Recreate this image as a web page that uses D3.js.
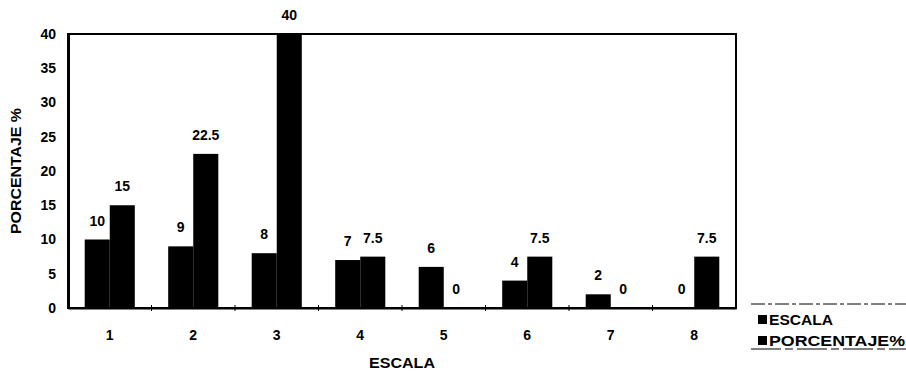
<!DOCTYPE html>
<html>
<head>
<meta charset="utf-8">
<script src="https://cdn.jsdelivr.net/npm/d3@7"></script>
<style>
  body { margin: 0; background: #fff; }
  svg text { font-family: "Liberation Sans", Arial, sans-serif; font-weight: bold; fill: #000; }
</style>
</head>
<body>
<div id="chart"></div>
<script>
// data
const categories = ["1", "2", "3", "4", "5", "6", "7", "8"];
const escala = [10, 9, 8, 7, 6, 4, 2, 0];
const porcentaje = [15, 22.5, 40, 7.5, 0, 7.5, 0, 7.5];
const seriesNames = ["ESCALA", "PORCENTAJE%"];
const yTicks = [0, 5, 10, 15, 20, 25, 30, 35, 40];

const width = 906, height = 376;
const margin = { top: 34, right: 170, bottom: 68, left: 68 };

const svg = d3.select("#chart")
  .append("svg")
  .attr("width", width)
  .attr("height", height);

// scales
let xScale = d3.scaleBand()
  .domain(categories)
  .range([margin.left, width - margin.right])
  .paddingInner(0.4)
  .paddingOuter(0.2);

let xSub = d3.scaleBand()
  .domain(seriesNames)
  .range([0, xScale.bandwidth()]);

let yScale = d3.scaleLinear()
  .domain([0, 40])
  .range([height - margin.bottom, margin.top]);

// build rows for the grouped bars
const rows = categories.map((c, i) => ({ cat: c, values: [
  { key: seriesNames[0], v: escala[i] },
  { key: seriesNames[1], v: porcentaje[i] }
]}));

// plot frame
svg.append("rect")
  .attr("x", margin.left)
  .attr("y", margin.top)
  .attr("width", width - margin.right - margin.left)
  .attr("height", height - margin.bottom - margin.top)
  .attr("fill", "none")
  .attr("stroke", "#000")
  .attr("stroke-width", 2);

// y axis
svg.append("g")
  .attr("transform", `translate(${margin.left},0)`)
  .call(d3.axisLeft(yScale).tickValues(yTicks).tickSize(0).tickPadding(12))
  .call(g => g.select(".domain").attr("stroke-width", 3))
  .attr("font-size", "14px")
  .attr("font-family", null);

// x axis (ticks between categories)
svg.append("g")
  .attr("transform", `translate(0,${height - margin.bottom})`)
  .call(d3.axisBottom(xScale).tickSize(0).tickPadding(22))
  .call(g => g.select(".domain").attr("stroke-width", 2))
  .attr("font-size", "14px")
  .attr("font-family", null);

const step = xScale.step();
svg.append("g")
  .selectAll("line")
  .data(categories.slice(1))
  .join("line")
    .attr("x1", d => xScale(d) - step * 0.2)
    .attr("x2", d => xScale(d) - step * 0.2)
    .attr("y1", height - margin.bottom - 3)
    .attr("y2", height - margin.bottom + 3)
    .attr("stroke", "#000");

// bars
const groups = svg.append("g")
  .selectAll("g")
  .data(rows)
  .join("g")
    .attr("transform", d => `translate(${xScale(d.cat)},0)`);

groups.selectAll("rect")
  .data(d => d.values)
  .join("rect")
    .attr("x", d => xSub(d.key))
    .attr("y", d => yScale(d.v))
    .attr("width", xSub.bandwidth())
    .attr("height", d => yScale(0) - yScale(d.v))
    .attr("fill", "#000");

// value labels
groups.selectAll("text")
  .data(d => d.values)
  .join("text")
    .attr("x", d => xSub(d.key) + xSub.bandwidth() / 2)
    .attr("y", d => yScale(d.v) - 14)
    .attr("text-anchor", "middle")
    .attr("font-size", "14px")
    .text(d => d.v);

// axis titles
svg.append("text")
  .attr("x", (margin.left + width - margin.right) / 2)
  .attr("y", 368)
  .attr("text-anchor", "middle")
  .attr("font-size", "14px")
  .attr("textLength", 66)
  .attr("lengthAdjust", "spacingAndGlyphs")
  .text("ESCALA");

svg.append("text")
  .attr("transform", `translate(21,${(margin.top + height - margin.bottom) / 2}) rotate(-90)`)
  .attr("text-anchor", "middle")
  .attr("font-size", "14px")
  .attr("textLength", 126)
  .attr("lengthAdjust", "spacingAndGlyphs")
  .text("PORCENTAJE %");

// legend
const legend = svg.append("g").attr("transform", "translate(751,304)");
legend.append("line")
  .attr("x1", 0).attr("x2", 155).attr("y1", 0).attr("y2", 0)
  .attr("stroke", "#000").attr("stroke-dasharray", "14,3,4,3");
legend.append("line")
  .attr("x1", 0).attr("x2", 155).attr("y1", 45).attr("y2", 45)
  .attr("stroke", "#000").attr("stroke-dasharray", "30,4,8,4");

legend.selectAll("rect")
  .data(seriesNames)
  .join("rect")
    .attr("x", 7)
    .attr("y", (d, i) => 11 + i * 21)
    .attr("width", 9)
    .attr("height", 9)
    .attr("fill", "#000");

legend.selectAll("text")
  .data(seriesNames)
  .join("text")
    .attr("x", 18)
    .attr("y", (d, i) => 21 + i * 21)
    .attr("font-size", "14px")
    .attr("font-weight", "normal")
    .attr("textLength", (d, i) => i === 0 ? 64 : 136)
    .attr("lengthAdjust", "spacingAndGlyphs")
    .text(d => d);
</script>
</body>
</html>
